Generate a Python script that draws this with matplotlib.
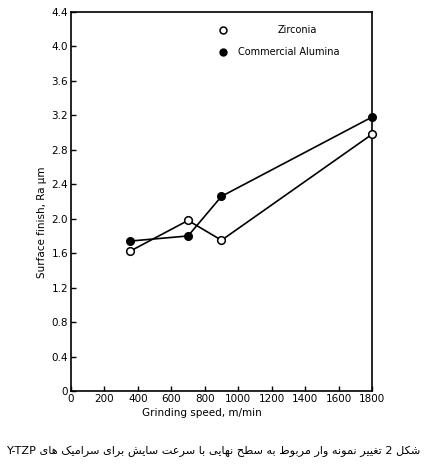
import matplotlib
matplotlib.use("Agg")
import matplotlib.pyplot as plt

# ---- data ----
speed_zirconia = [350, 700, 900, 1800]
ra_zirconia = [1.62, 1.98, 1.75, 2.98]
speed_alumina = [350, 700, 900, 1800]
ra_alumina = [1.74, 1.80, 2.26, 3.18]
x_ticks = [0, 200, 400, 600, 800, 1000, 1200, 1400, 1600, 1800]
y_ticks = [0, 0.4, 0.8, 1.2, 1.6, 2.0, 2.4, 2.8, 3.2, 3.6, 4.0, 4.4]
y_ticklabels = ["0", "0.4", "0.8", "1.2", "1.6", "2.0", "2.4", "2.8", "3.2", "3.6", "4.0", "4.4"]
caption = "شکل 2 تغییر نمونه وار مربوط به سطح نهایی با سرعت سایش برای سرامیک های Y-TZP"

# ---- simple Arabic/Persian shaping (isolated, final, initial, medial) ----
FORMS = {
    '\u0627': ('\uFE8D', '\uFE8E', None, None),
    '\u0628': ('\uFE8F', '\uFE90', '\uFE91', '\uFE92'),
    '\u062A': ('\uFE95', '\uFE96', '\uFE97', '\uFE98'),
    '\u062D': ('\uFEA1', '\uFEA2', '\uFEA3', '\uFEA4'),
    '\u0631': ('\uFEAD', '\uFEAE', None, None),
    '\u0633': ('\uFEB1', '\uFEB2', '\uFEB3', '\uFEB4'),
    '\u0634': ('\uFEB5', '\uFEB6', '\uFEB7', '\uFEB8'),
    '\u0637': ('\uFEC1', '\uFEC2', '\uFEC3', '\uFEC4'),
    '\u0639': ('\uFEC9', '\uFECA', '\uFECB', '\uFECC'),
    '\u063A': ('\uFECD', '\uFECE', '\uFECF', '\uFED0'),
    '\u0644': ('\uFEDD', '\uFEDE', '\uFEDF', '\uFEE0'),
    '\u0645': ('\uFEE1', '\uFEE2', '\uFEE3', '\uFEE4'),
    '\u0646': ('\uFEE5', '\uFEE6', '\uFEE7', '\uFEE8'),
    '\u0647': ('\uFEE9', '\uFEEA', '\uFEEB', '\uFEEC'),
    '\u0648': ('\uFEED', '\uFEEE', None, None),
    '\u06CC': ('\uFBFC', '\uFBFD', '\uFBFE', '\uFBFF'),
    '\u06A9': ('\uFB8E', '\uFB8F', '\uFB90', '\uFB91'),
}


def dual(c):
    return c in FORMS and FORMS[c][2] is not None


def shape_word(w):
    out = []
    n = len(w)
    for i, c in enumerate(w):
        if c not in FORMS:
            out.append(c)
            continue
        prev_joins = i > 0 and dual(w[i - 1])
        next_joins = i < n - 1 and w[i + 1] in FORMS and dual(c)
        iso, fin, ini, med = FORMS[c]
        if prev_joins and next_joins:
            out.append(med)
        elif prev_joins:
            out.append(fin)
        elif next_joins:
            out.append(ini)
        else:
            out.append(iso)
    return ''.join(reversed(out))


def visual_rtl(s):
    words = s.split(' ')
    vis = []
    for w in words:
        if any(ch in FORMS for ch in w):
            vis.append(shape_word(w))
        else:
            vis.append(w)
    return ' '.join(reversed(vis))


fig = plt.figure(figsize=(4.27, 4.65), dpi=100)
ax = fig.add_axes([71 / 427, 74 / 465, 301 / 427, 379 / 465])

ax.plot(speed_zirconia, ra_zirconia, color='black', lw=1.2, marker='o',
        markersize=5.5, markerfacecolor='white', markeredgecolor='black',
        markeredgewidth=1.1, clip_on=False, zorder=3)
ax.plot(speed_alumina, ra_alumina, color='black', lw=1.2, marker='o',
        markersize=5.5, markerfacecolor='black', markeredgecolor='black',
        clip_on=False, zorder=4)

ax.set_xlim(0, 1800)
ax.set_ylim(0, 4.4)
ax.set_xticks(x_ticks)
ax.set_yticks(y_ticks)
ax.set_yticklabels(y_ticklabels)
ax.tick_params(axis='both', direction='in', length=3.5, width=1.0,
               labelsize=7.5, pad=2)
for sp in ax.spines.values():
    sp.set_linewidth(1.2)

# legend (manual)
ax.plot([0.505], [0.952], transform=ax.transAxes, marker='o', markersize=5,
        markerfacecolor='white', markeredgecolor='black', markeredgewidth=1.1,
        linestyle='none')
ax.text(0.685, 0.952, "Zirconia", transform=ax.transAxes, fontsize=7,
        va='center', ha='left')
ax.plot([0.505], [0.894], transform=ax.transAxes, marker='o', markersize=5,
        color='black', linestyle='none')
ax.text(0.555, 0.894, "Commercial Alumina", transform=ax.transAxes,
        fontsize=7, va='center', ha='left')

fig.text(42 / 427, 1 - 222 / 465, "Surface finish, Ra \u00b5m", rotation=90,
         fontsize=7.5, ha='center', va='center')
fig.text(202 / 427, 1 - 413 / 465, "Grinding speed, m/min", fontsize=7.5,
         ha='center', va='center')

fig.text(213 / 427, 1 - 451 / 465, visual_rtl(caption), fontsize=8.1,
         ha='center', va='center', family=['DejaVu Sans'])

fig.savefig("out.png", dpi=100)
